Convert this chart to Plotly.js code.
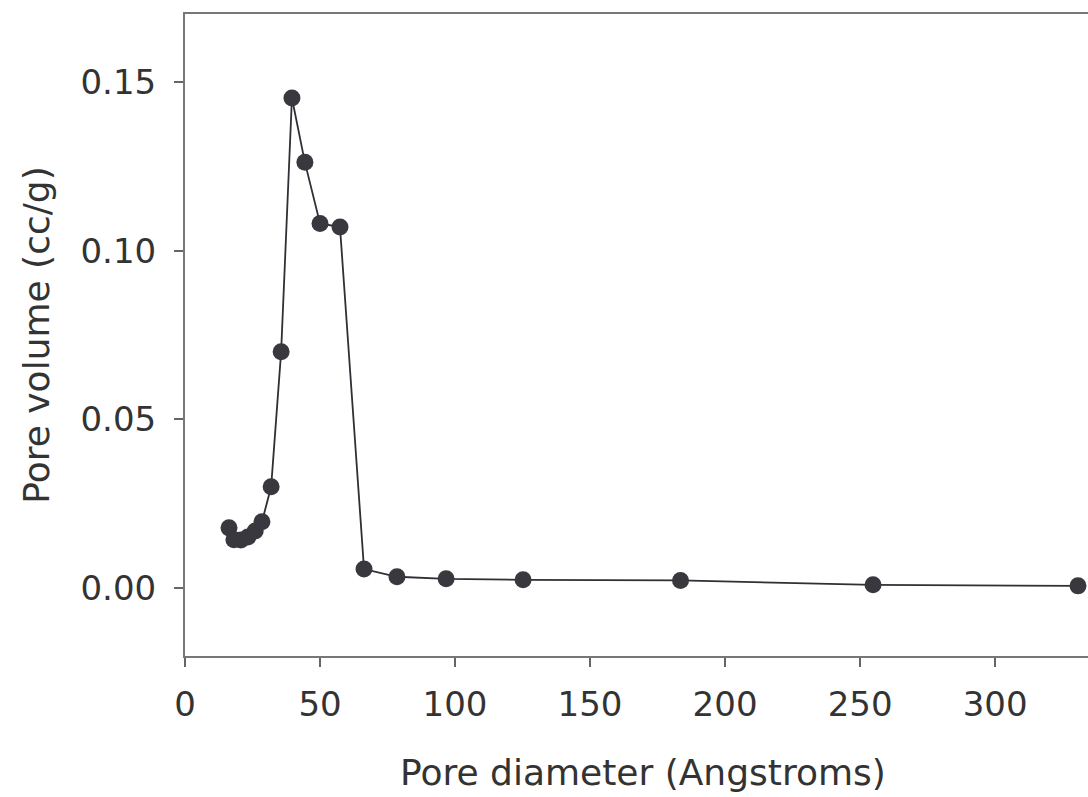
<!DOCTYPE html>
<html>
<head>
<meta charset="utf-8">
<script src="https://cdn.plot.ly/plotly-3.0.1.min.js"></script>
<style>html,body{margin:0;padding:0;background:#fff;}#chart{width:1088px;height:797px;}</style>
</head>
<body>
<div id="chart"></div>
<script>
const poreDiameter = [16.3, 18.1, 20.7, 23.3, 26.0, 28.5, 31.9, 35.6, 39.6, 44.4, 50.0, 57.4, 66.3, 78.5, 96.7, 125.2, 183.5, 254.8, 330.7];
const poreVolume = [0.0178, 0.0143, 0.0142, 0.0151, 0.0169, 0.0196, 0.0300, 0.0700, 0.1453, 0.1262, 0.1081, 0.1070, 0.0056, 0.0033, 0.0027, 0.0024, 0.0022, 0.0009, 0.0006];
const xTicks = [0, 50, 100, 150, 200, 250, 300];
const yTicks = [0.00, 0.05, 0.10, 0.15];
const yTickLabels = ["0.00", "0.05", "0.10", "0.15"];
const xTitle = 'Pore diameter (Angstroms)';
const yTitle = 'Pore volume (cc/g)';

const trace = {
  x: poreDiameter, y: poreVolume, type: 'scatter', mode: 'lines+markers',
  line: {color: '#2f2f35', width: 1.8},
  marker: {color: '#38383e', size: 17},
  cliponaxis: false
};
const fam = 'DejaVu Sans, Verdana, sans-serif';
const tickFont = {family: fam, size: 34, color: '#333'};
const titleFont = {family: fam, size: 36, color: '#333'};
const layout = {
  width: 1088, height: 797,
  margin: {l: 185, r: 0, t: 14, b: 141},
  paper_bgcolor: '#fff', plot_bgcolor: '#fff',
  showlegend: false,
  xaxis: {
    range: [0, 334.4], tickvals: xTicks, ticks: 'outside', ticklen: 9, tickwidth: 2, tickcolor: '#666',
    ticklabelstandoff: 8,
    showgrid: false, zeroline: false, showline: true, linecolor: '#777', linewidth: 2, mirror: true,
    tickfont: tickFont
  },
  yaxis: {
    range: [-0.0202, 0.1702], tickvals: yTicks, ticktext: yTickLabels, ticks: 'outside', ticklen: 9, tickwidth: 2, tickcolor: '#666',
    ticklabelstandoff: 11,
    showgrid: false, zeroline: false, showline: true, linecolor: '#777', linewidth: 2, mirror: true,
    tickfont: tickFont,
    title: {text: yTitle, font: titleFont, standoff: 20}
  },
  annotations: [{
    text: xTitle, xref: 'paper', yref: 'paper', x: 0.5077, y: -0.181,
    xanchor: 'center', yanchor: 'middle', showarrow: false, font: titleFont
  }]
};
Plotly.newPlot('chart', [trace], layout, {displayModeBar: false, staticPlot: true});
</script>
</body>
</html>
